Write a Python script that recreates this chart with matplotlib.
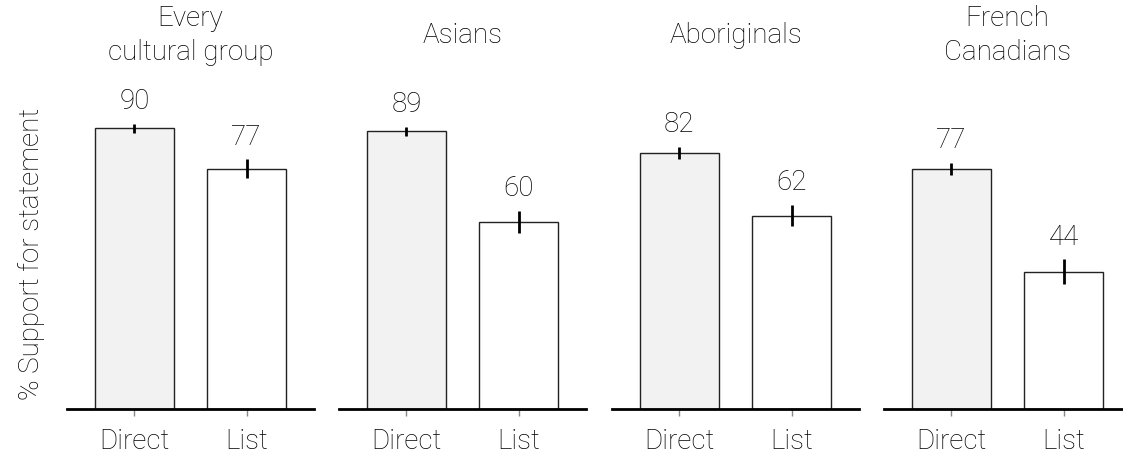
import matplotlib
matplotlib.use("Agg")
import matplotlib.pyplot as plt

groups = ["Every\ncultural group", "Asians", "Aboriginals", "French\nCanadians"]
conditions = ["Direct", "List"]
direct_vals = [90, 89, 82, 77]
list_vals = [77, 60, 62, 44]
direct_err = [1.5, 1.5, 2.0, 2.0]
list_err = [3.0, 3.5, 3.5, 4.0]

plt.rcParams["font.family"] = ["Roboto", "Liberation Sans", "DejaVu Sans"]
plt.rcParams["font.weight"] = "light"
plt.rcParams["axes.labelweight"] = "light"
text_color = "#000000"
fs = 20

fig = plt.figure(figsize=(11.23, 4.56), dpi=100)
W, H = 1123, 456
ax_w = 247
lefts = [67, 339, 612, 884]
bottom_px, top_px = 410, 98

for i, g in enumerate(groups):
    ax = fig.add_axes([lefts[i] / W, (H - bottom_px) / H, ax_w / W,
                       (bottom_px - top_px) / H])
    vals = [direct_vals[i], list_vals[i]]
    errs = [direct_err[i], list_err[i]]
    ax.bar([0, 1], vals, width=0.7, color=["#f2f2f2", "white"],
           edgecolor="#222222", linewidth=1.0, zorder=2)
    ax.errorbar([0, 1], vals, yerr=errs, fmt="none", ecolor="black",
                elinewidth=2.0, capsize=0, zorder=3)
    for x, v, e in zip([0, 1], vals, errs):
        ax.annotate(f"{v}", xy=(x, v + e), xytext=(0, 7),
                    textcoords="offset points", ha="center", va="bottom",
                    fontsize=fs, color=text_color)
    ax.set_xlim(-0.6, 1.6)
    ax.set_ylim(0, 100)
    for s in ["top", "right", "left"]:
        ax.spines[s].set_visible(False)
    ax.spines["bottom"].set_linewidth(2.0)
    ax.spines["bottom"].set_color("black")
    ax.set_yticks([])
    ax.set_xticks([0, 1])
    ax.set_xticklabels(conditions, fontsize=fs, color=text_color)
    ax.tick_params(axis="x", length=5, width=1, color="#888888", pad=8)
    ax.text(0.5, 1.2, g, transform=ax.transAxes, ha="center", va="center",
            fontsize=fs, color=text_color, linespacing=1.3)
    if i == 0:
        ax.set_ylabel("% Support for statement", fontsize=fs,
                      color=text_color, labelpad=16)

fig.savefig("out.png", dpi=100)
